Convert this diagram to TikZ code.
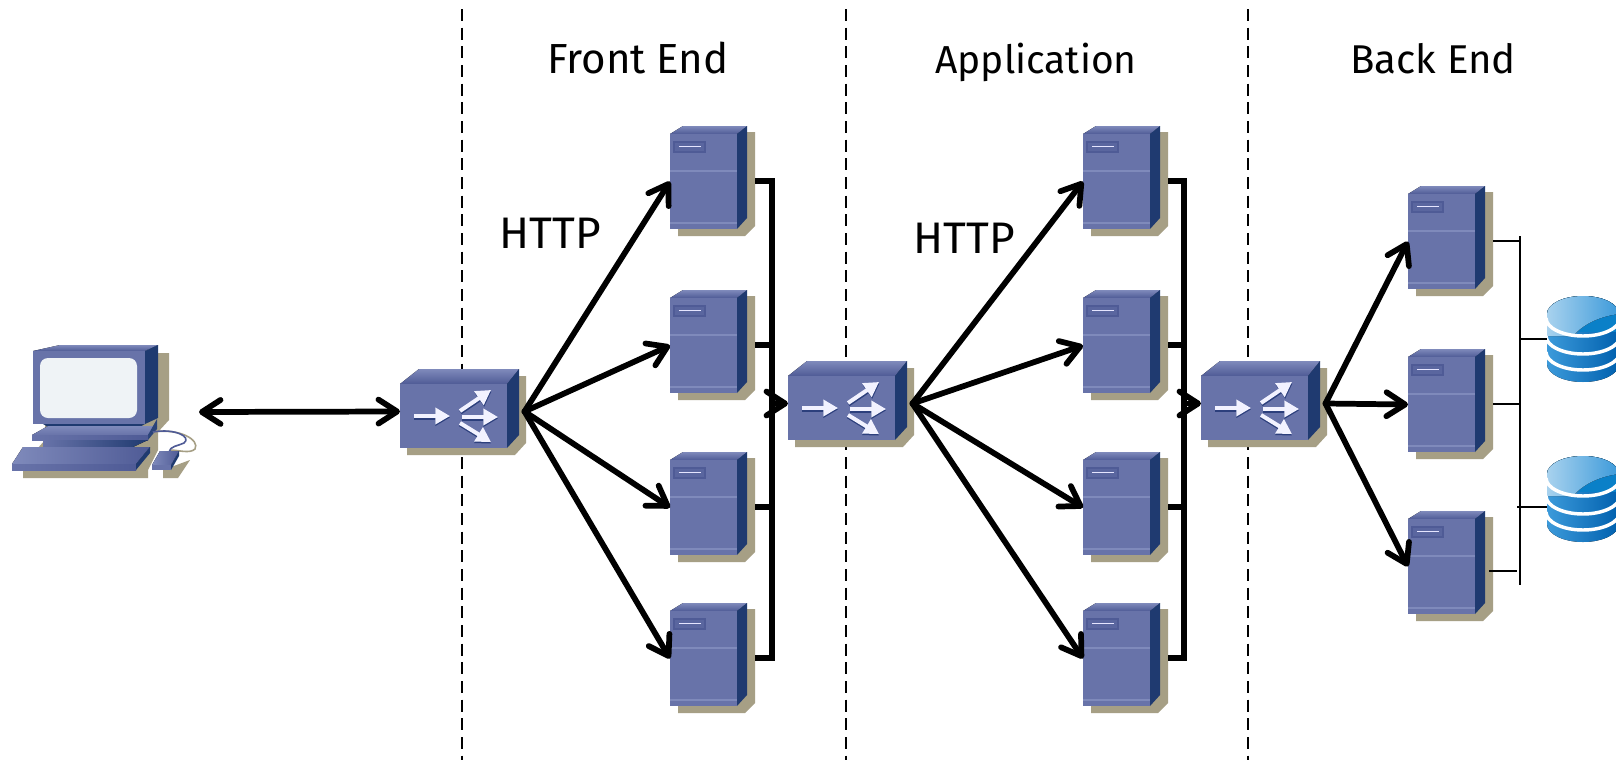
\documentclass[tikz,border=0pt]{standalone}
\usepackage{fontspec}
\usepackage{graphicx}
\setmainfont{Fira Sans}
\usetikzlibrary{arrows.meta,calc}
\definecolor{frontc}{HTML}{6873A9}
\definecolor{sidec}{HTML}{1F3A70}
\definecolor{shadowc}{HTML}{A69F85}
\definecolor{toplight}{HTML}{7F8ABB}
\definecolor{topdark}{HTML}{4F5B96}
\definecolor{slotc}{HTML}{5A669F}
\definecolor{glyphs}{HTML}{2C3F7C}
\definecolor{dbdark}{HTML}{0060AE}
\definecolor{dbmid}{HTML}{0A80C8}
\definecolor{dblight}{HTML}{3C9ADA}
\definecolor{dbpale}{HTML}{A8D2EE}
\definecolor{screenc}{HTML}{EFF3F6}
\tikzset{
  link/.style={line width=4.3pt,line cap=round,-{Straight Barb[length=14pt,width=18pt,round]}},
  dlink/.style={line width=4.3pt,{Straight Barb[length=14pt,width=18pt,round]}-{Straight Barb[length=14pt,width=18pt,round]}},
  fatbus/.style={line width=4pt},
  thinbus/.style={line width=1.9pt},
  boundary/.style={line width=2pt,dash pattern=on 9pt off 5pt},
  anchorbox/.style={inner sep=0pt,outer sep=0pt,draw=none},
  glyphw/.style={line width=3pt,white!95!blue,-{Triangle[length=11pt,width=12pt]}},
  glyphd/.style={line width=3pt,glyphs,-{Triangle[length=11pt,width=12pt]}},
  lab/.style={inner sep=0pt,text=black,anchor=base}
}
\newcommand{\serverbox}[3]{%
\begin{scope}[shift={(#2,#3)}]
 \fill[shadowc] (8,6)--(85,6)--(85,100)--(75,110)--(8,110)--cycle;
 \fill[top color=toplight,bottom color=topdark] (0,8)--(13,0)--(77,0)--(67,8)--cycle;
 \fill[sidec] (67,8)--(77,0)--(77,92)--(67,103)--cycle;
 \node[anchorbox,fill=frontc,minimum width=50.25pt,minimum height=71.25pt] (#1) at (33.5,55.5) {};
 \draw[toplight,line width=1pt] (0,45)--(67,45);
 \draw[toplight,line width=1pt] (0,97)--(67,97);
 \fill[slotc,draw=topdark,line width=.8pt] (4,16) rectangle (35,26);
 \draw[white!90!blue,line width=1.1pt] (9,20.5)--(31,20.5);
 \coordinate (#1-out) at (85,55);
\end{scope}}
\newcommand{\switchbox}[3]{%
\begin{scope}[shift={(#2,#3)}]
 \fill[shadowc] (7,10)--(7,71)--(115,71)--(126,59)--(126,-8)--(100,-8)--cycle;
 \fill[top color=toplight,bottom color=topdark] (0,0)--(19,-15)--(119,-15)--(107,0)--cycle;
 \fill[sidec] (107,0)--(119,-15)--(119,51)--(107,64)--cycle;
 \node[anchorbox,fill=frontc,minimum width=80.25pt,minimum height=48pt] (#1) at (53.5,32) {};
 \foreach \a/\b/\c/\d in {14/33.5/50/33.5, 62/34.5/98/34.5, 60.5/28.5/91.5/7.5, 60/40.5/91/59.5}
   \draw[glyphd] (\a,\b)--(\c,\d);
 \foreach \a/\b/\c/\d in {14/32/50/32, 62/33/98/33, 60/27/91/6, 60/39/91/58}
   \draw[glyphw] (\a,\b)--(\c,\d);
 \coordinate (#1-in) at (0,27.5);
 \coordinate (#1-out) at (124.5,27.5);
\end{scope}}
\newcommand{\dbstack}[3]{%
\begin{scope}[shift={(#2,#3)}]
 \begin{scope}
  \clip (-36,18) arc[start angle=180,end angle=360,x radius=36,y radius=18]
        -- (36,68) arc[start angle=0,end angle=180,x radius=36,y radius=18] -- cycle;
  \fill[left color=dblight,middle color=dbmid,right color=dbdark] (-36,0) rectangle (36,90);
  \fill[dbmid] (-36,0) rectangle (36,36);
  \fill[left color=dbpale,right color=dblight] (-36,0) -- (-36,40) -- (-10,40) .. controls (2,26) and (20,20) .. (36,18) -- (36,0) -- cycle;
  \foreach \o in {4,22,38}
    \draw[white,line width=2.6pt] (-37,\o+18) arc[start angle=180,end angle=0,x radius=37,y radius=18];
 \end{scope}
 \node[anchorbox,minimum width=54pt,minimum height=64pt] (#1) at (0,43) {};
\end{scope}}
\begin{document}
\begin{tikzpicture}[x=0.75pt,y=-0.75pt]
\clip (0,0) rectangle (1616,760);
\fill[white] (0,0) rectangle (1616,760);
% tier boundaries
\coordinate (b1t) at (462,9); \coordinate (b1b) at (462,760);
\coordinate (b2t) at (846,9); \coordinate (b2b) at (846,760);
\coordinate (b3t) at (1248,9); \coordinate (b3b) at (1248,760);
\draw[boundary] (b1t)--(b1b);
\draw[boundary] (b2t)--(b2b);
\draw[boundary] (b3t)--(b3b);
% computer
\fill[shadowc] (45,353)--(169,353)--(169,420)--(158,432)--(158,450)--(148,470)--(148,478)--(23,478)--(23,465)--(45,440)--cycle;
\fill[top color=toplight,bottom color=topdark] (33,351)--(60,345)--(158,345)--(145,351)--cycle;
\fill[sidec] (145,351)--(158,345)--(158,418)--(145,424)--cycle;
\fill[frontc] (33,351) rectangle (145,424);
\fill[rounded corners=6pt,fill=screenc] (40,358) rectangle (137,418);
\fill[sidec] (43,424)--(145,424)--(138,428)--(50,428)--cycle;
\fill[top color=toplight,bottom color=frontc] (32,435)--(48,426)--(157,426)--(148,435)--cycle;
\fill[sidec!85!frontc] (148,435)--(157,419)--(157,429)--(148,440)--cycle;
\fill[left color=frontc,right color=topdark] (32,435) rectangle (148,440);
\fill[left color=frontc,right color=sidec] (43,440)--(148,440)--(133,447)--(43,447)--cycle;
\fill[left color=toplight,right color=topdark] (12,464)--(23,447)--(150,447)--(136,464)--cycle;
\fill[left color=frontc,right color=topdark] (12,464) rectangle (136,470);
\fill[sidec] (136,464)--(150,447)--(150,453)--(136,470)--cycle;
\fill[shadowc] (163,470)--(190,460)--(178,478)--(163,478)--cycle;
\draw[shadowc,line width=1.2pt] (153,432) .. controls (180,428) and (200,440) .. (195,449) .. controls (190,454) and (178,450) .. (170,450);
\draw[topdark,line width=1.2pt] (153,432) .. controls (175,428) and (192,437) .. (184,443) .. controls (178,446) and (170,446) .. (169,452);
\fill[left color=toplight,right color=topdark] (152,465)--(160,451)--(179,451)--(171,465)--cycle;
\fill[frontc] (152,465) rectangle (171,470);
\fill[sidec] (171,465)--(179,451)--(179,456)--(171,470)--cycle;
\coordinate (pc) at (199,412);
% devices
\switchbox{swa}{400}{384}
\switchbox{swb}{788}{376}
\switchbox{swc}{1201}{376}
\serverbox{fea}{670}{126}
\serverbox{feb}{670}{290}
\serverbox{fec}{670}{452}
\serverbox{fed}{670}{603}
\serverbox{apa}{1083}{126}
\serverbox{apb}{1083}{290}
\serverbox{apc}{1083}{452}
\serverbox{apd}{1083}{603}
\serverbox{bea}{1408}{186}
\serverbox{beb}{1408}{349}
\serverbox{bec}{1408}{511}
\dbstack{dba}{1583}{296}
\dbstack{dbb}{1583}{456}
% connectors
\draw[dlink] (pc)--(swa-in);
\foreach \t in {fea,feb,fec,fed} \draw[link] (swa-out)--(\t.west);
\foreach \t in {apa,apb,apc,apd} \draw[link] (swb-out)--(\t.west);
\foreach \t in {bea,beb,bec} \draw[link] (swc-out)--(\t.west);
\coordinate (busa) at (772,300);
\coordinate (busb) at (1184,300);
\draw[fatbus] (fea-out)--(fea-out-|busa)--(fed-out-|busa)--(fed-out);
\draw[fatbus] (feb-out)--(feb-out-|busa);
\draw[fatbus] (fec-out)--(fec-out-|busa);
\draw[fatbus] (apa-out)--(apa-out-|busb)--(apd-out-|busb)--(apd-out);
\draw[fatbus] (apb-out)--(apb-out-|busb);
\draw[fatbus] (apc-out)--(apc-out-|busb);
\draw[link] (swb-in-|busa)--(swb-in);
\draw[link] (swc-in-|busb)--(swc-in);
% storage bus
\coordinate (bust) at (1520,236);
\coordinate (busm) at (1520,585);
\draw[thinbus] (bust)--(busm);
\draw[thinbus] (bea-out)--(bea-out-|bust);
\draw[thinbus] (beb-out)--(beb-out-|bust);
\coordinate (becstub) at (1489,571);
\coordinate (becend) at (1517,571);
\draw[thinbus] (becstub)--(becend);
\draw[thinbus] (bust|-dba.west)--(dba.west);
\coordinate (dbbend) at (1517,507);
\draw[thinbus] (dbbend)--(dbb.west|-dbbend);
% labels
\node[lab] (tfe) at (638,73) {\resizebox{136pt}{!}{Front End}};
\node[lab] (tap) at (1036,73) {\resizebox{151pt}{!}{Application}};
\node[lab] (tbe) at (1433,73) {\resizebox{124pt}{!}{Back End}};
\node[lab] (thf) at (550,248) {\resizebox{76pt}{!}{HTTP}};
\node[lab] (tha) at (964,253) {\resizebox{76pt}{!}{HTTP}};
\end{tikzpicture}
\end{document}
